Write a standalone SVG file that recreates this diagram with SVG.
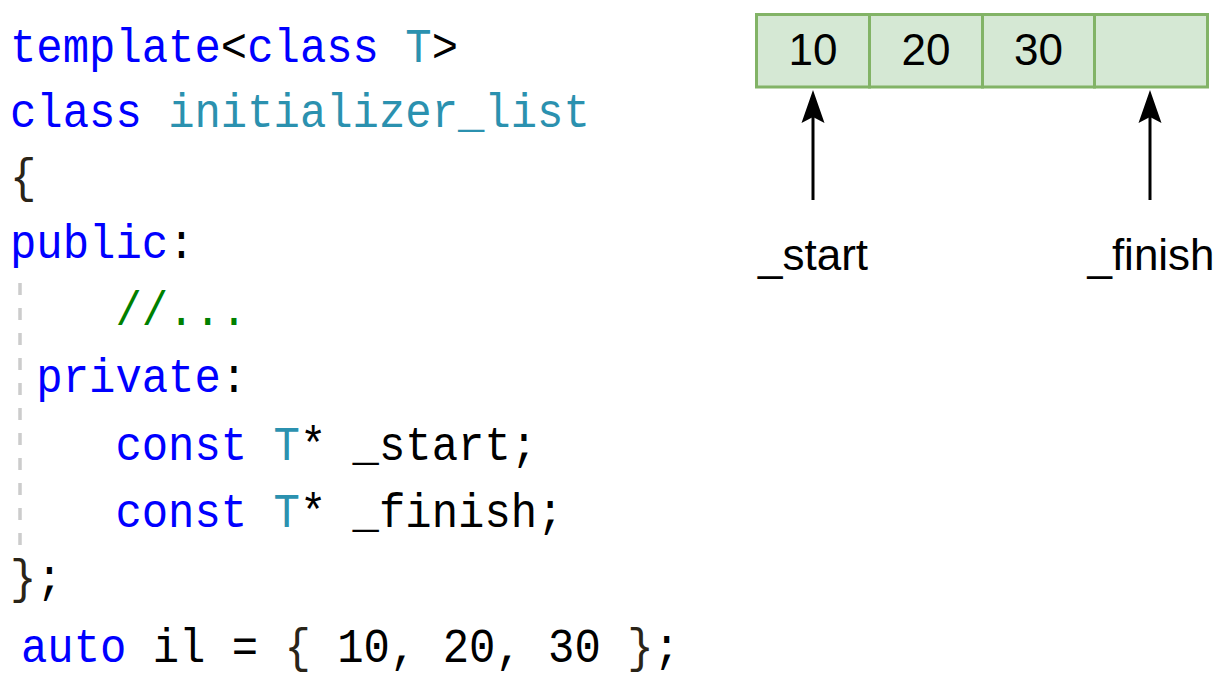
<svg xmlns="http://www.w3.org/2000/svg" width="1230" height="681" viewBox="0 0 1230 681">
  <style>
    .code { font-family: "Liberation Mono", "DejaVu Sans Mono", monospace; font-size: 48px; white-space: pre; fill: #000000; }
    .kw { fill: #0000ff; }
    .ty { fill: #2b91af; }
    .cm { fill: #008000; }
    .br { fill: #2a2418; }
    .cell { fill: #d5e8d4; stroke: #82b366; stroke-width: 3; }
    .num { font-family: "Liberation Sans", Arial, sans-serif; font-size: 44px; fill: #000000; text-anchor: middle; }
    .lbl { font-family: "Liberation Sans", Arial, sans-serif; font-size: 44px; fill: #000000; text-anchor: middle; }
    .conn { stroke: #000000; stroke-width: 3; fill: none; }
  </style>
  <rect x="0" y="0" width="1230" height="681" fill="#ffffff"/>

  <g id="code">
    <line x1="20" y1="283" x2="20" y2="545" stroke="#cccccc" stroke-width="3.5" stroke-dasharray="12 13"/>
    <text class="code" transform="translate(10,62) scale(0.915,1)"><tspan class="kw">template</tspan>&lt;<tspan class="kw">class</tspan> <tspan class="ty">T</tspan>&gt;</text>
    <text class="code" transform="translate(10,127) scale(0.915,1)"><tspan class="kw">class</tspan> <tspan class="ty">initializer_list</tspan></text>
    <text class="code" transform="translate(10,192) scale(0.915,1)"><tspan class="br">{</tspan></text>
    <text class="code" transform="translate(10,258) scale(0.915,1)"><tspan class="kw">public</tspan>:</text>
    <text class="code" transform="translate(10,325) scale(0.915,1)">    <tspan class="cm">//...</tspan></text>
    <text class="code" transform="translate(10,392) scale(0.915,1)"> <tspan class="kw">private</tspan>:</text>
    <text class="code" transform="translate(10,460) scale(0.915,1)">    <tspan class="kw">const</tspan> <tspan class="ty">T</tspan>* _start;</text>
    <text class="code" transform="translate(10,527) scale(0.915,1)">    <tspan class="kw">const</tspan> <tspan class="ty">T</tspan>* _finish;</text>
    <text class="code" transform="translate(10,593) scale(0.915,1)"><tspan class="br">}</tspan>;</text>
    <text class="code" transform="translate(21,662) scale(0.915,1)"><tspan class="kw">auto</tspan> il = <tspan class="br">{</tspan> 10, 20, 30 <tspan class="br">}</tspan>;</text>
  </g>

  <g id="cell-10">
    <rect class="cell" x="756.5" y="14.5" width="113" height="72.5"/>
    <text class="num" x="813" y="65">10</text>
  </g>
  <g id="cell-20">
    <rect class="cell" x="869.5" y="14.5" width="113" height="72.5"/>
    <text class="num" x="926" y="65">20</text>
  </g>
  <g id="cell-30">
    <rect class="cell" x="982.5" y="14.5" width="112" height="72.5"/>
    <text class="num" x="1038.5" y="65">30</text>
  </g>
  <g id="cell-end">
    <rect class="cell" x="1094.5" y="14.5" width="113" height="72.5"/>
  </g>

  <g id="label-start">
    <text class="lbl" x="813" y="270">_start</text>
  </g>
  <g id="label-finish">
    <text class="lbl" x="1151" y="270">_finish</text>
  </g>

  <g id="connectors">
    <line class="conn" x1="813" y1="200" x2="813" y2="116"/>
    <path d="M 813 90 L 801.5 123 L 813 117 L 824.5 123 Z" fill="#000000"/>
    <line class="conn" x1="1150" y1="200" x2="1150" y2="116"/>
    <path d="M 1150 90 L 1138.5 123 L 1150 117 L 1161.5 123 Z" fill="#000000"/>
  </g>
</svg>
